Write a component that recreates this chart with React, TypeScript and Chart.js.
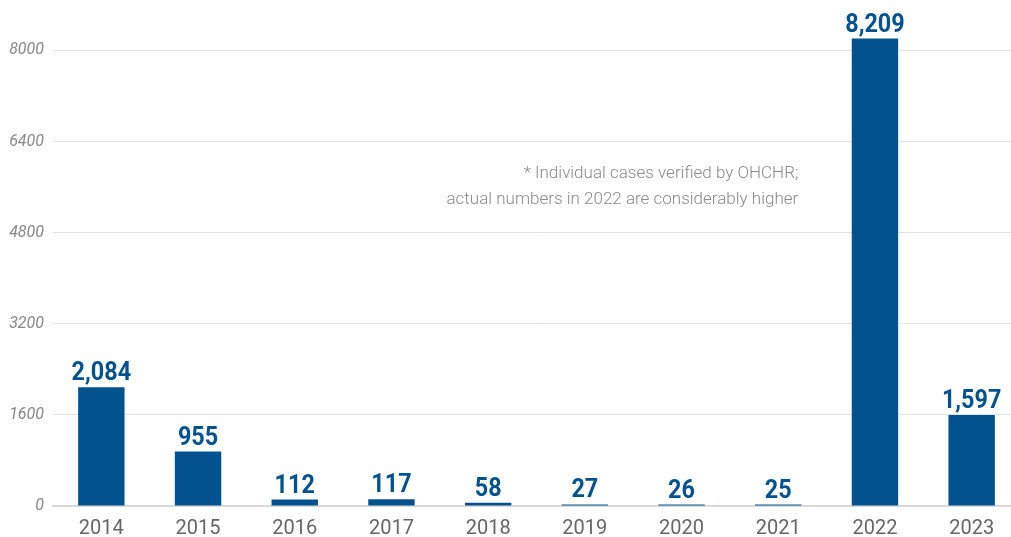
import React, { useEffect, useRef } from "react";
import { Chart, registerables } from "chart.js";

Chart.register(...registerables);

const categories = ["2014", "2015", "2016", "2017", "2018", "2019", "2020", "2021", "2022", "2023"];
const values = [2084, 955, 112, 117, 58, 27, 26, 25, 8209, 1597];
const yTicks = [0, 1600, 3200, 4800, 6400, 8000];
const noteLines = ["* Individual cases verified by OHCHR;", "actual numbers in 2022 are considerably higher"];

const BAR = "#02528f";

const labelPlugin = {
  id: "valueLabels",
  afterDatasetsDraw(chart: any) {
    const ctx = chart.ctx;
    const meta = chart.getDatasetMeta(0);
    ctx.save();
    ctx.fillStyle = BAR;
    ctx.font = "bold 26px Roboto";
    ctx.textAlign = "center";
    ctx.textBaseline = "alphabetic";
    meta.data.forEach((el: any, i: number) => {
      const txt = values[i].toLocaleString("en-US");
      ctx.save();
      ctx.translate(el.x, el.y - 7);
      ctx.scale(0.9, 1);
      ctx.fillText(txt, 0, 0);
      ctx.restore();
    });
    const xs = chart.scales.x;
    const ys = chart.scales.y;
    ctx.font = "300 17px Roboto";
    ctx.fillStyle = "#8a8a8a";
    ctx.textAlign = "right";
    const rx = xs.getPixelForValue(7) + 20;
    const y0 = ys.getPixelForValue(5760);
    noteLines.forEach((l, i) => {
      ctx.fillText(l, rx, y0 + i * 26);
    });
    ctx.restore();
  },
};

export default function App() {
  const ref = useRef<HTMLCanvasElement>(null);
  useEffect(() => {
    document.body.style.margin = "0";
    const chart = new Chart(ref.current!, {
      type: "bar",
      data: {
        labels: categories,
        datasets: [
          {
            data: values,
            backgroundColor: BAR,
            barPercentage: 0.48,
            categoryPercentage: 1,
          },
        ],
      },
      options: {
        animation: false,
        responsive: false,
        layout: { padding: { top: 4, left: 0, right: 0, bottom: 0 } },
        plugins: { legend: { display: false }, tooltip: { enabled: false } },
        scales: {
          x: {
            grid: { display: false, drawTicks: false },
            border: { display: true, color: "#d9d9d9", width: 2 },
            ticks: { color: "#666", font: { family: "Roboto", size: 20 }, padding: 11 },
            afterFit: (s: any) => {
              s.height = 31;
            },
          },
          y: {
            min: 0,
            max: 8560,
            afterBuildTicks: (s: any) => {
              s.ticks = yTicks.map((v) => ({ value: v }));
            },
            grid: { color: "#e3e3e3", lineWidth: 1, drawTicks: false },
            border: { display: false },
            ticks: {
              color: "#888",
              font: { family: "Roboto", size: 16, style: "italic" },
              padding: 9,
              callback: (v: any) => String(v),
            },
            afterFit: (s: any) => {
              s.width = 53;
            },
          },
        },
      },
      plugins: [labelPlugin],
    });
    return () => chart.destroy();
  }, []);
  return (
    <div style={{ width: 1011, height: 537, overflow: "hidden" }}>
      <canvas ref={ref} width={1020} height={537} style={{ display: "block" }} />
    </div>
  );
}
